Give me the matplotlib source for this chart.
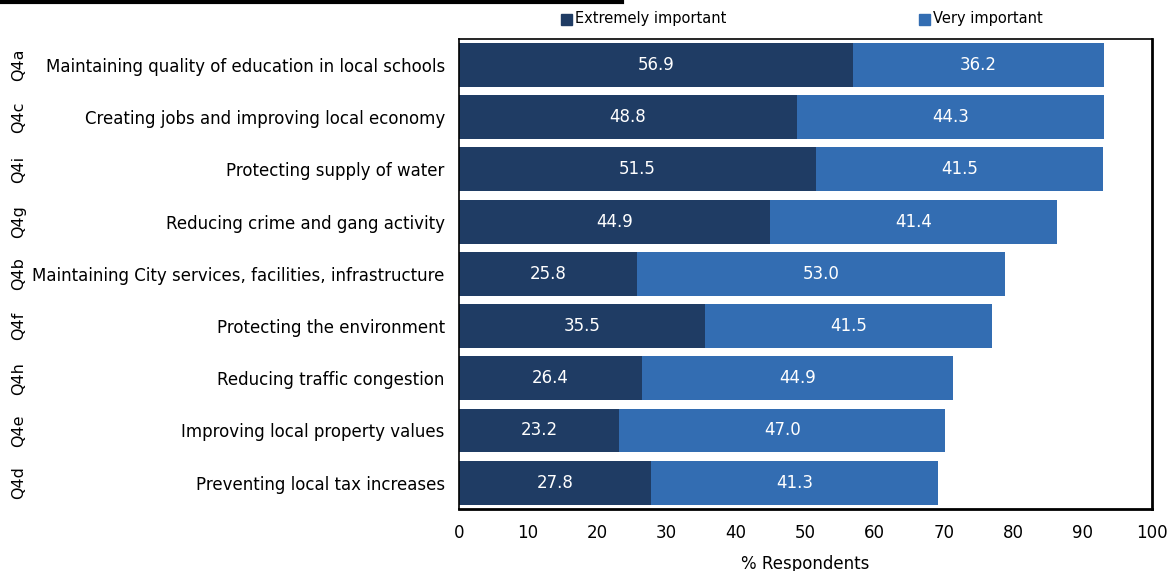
import numpy as np
import matplotlib.pyplot as plt
import matplotlib.transforms as mtransforms

qids = ["Q4a", "Q4c", "Q4i", "Q4g", "Q4b", "Q4f", "Q4h", "Q4e", "Q4d"]
items = [
    "Maintaining quality of education in local schools",
    "Creating jobs and improving local economy",
    "Protecting supply of water",
    "Reducing crime and gang activity",
    "Maintaining City services, facilities, infrastructure",
    "Protecting the environment",
    "Reducing traffic congestion",
    "Improving local property values",
    "Preventing local tax increases",
]
extremely = [56.9, 48.8, 51.5, 44.9, 25.8, 35.5, 26.4, 23.2, 27.8]
very = [36.2, 44.3, 41.5, 41.4, 53.0, 41.5, 44.9, 47.0, 41.3]

dark = "#1f3c64"
light = "#336db2"

fig = plt.figure(figsize=(11.73, 5.71), dpi=100)
ax = fig.add_axes([0.391, 0.109, 0.591, 0.823])

y = np.arange(len(items))
ax.barh(y, extremely, height=0.84, color=dark, label="Extremely important")
ax.barh(y, very, left=extremely, height=0.84, color=light, label="Very important")

for yi, e, v in zip(y, extremely, very):
    ax.text(e / 2, yi, f"{e:.1f}", color="white", ha="center", va="center", fontsize=12)
    ax.text(e + v / 2, yi, f"{v:.1f}", color="white", ha="center", va="center", fontsize=12)

ax.set_xlim(0, 100)
ax.set_ylim(len(items) - 0.5, -0.5)
ax.set_xticks(np.arange(0, 101, 10))
ax.set_yticks(y)
ax.set_yticklabels(items, fontsize=12)
ax.tick_params(axis="y", length=0, pad=10)
ax.tick_params(axis="x", length=0, pad=11, labelsize=12)
ax.set_xlabel("% Respondents", fontsize=12, labelpad=9)

for s in ax.spines.values():
    s.set_color("black")
    s.set_linewidth(1.2)
ax.spines["right"].set_linewidth(2)
ax.spines["bottom"].set_linewidth(2)

# question ids down the left edge
trans = mtransforms.blended_transform_factory(fig.transFigure, ax.transData)
for yi, q in zip(y, qids):
    fig.text(19 / 1173, yi, q, transform=trans, rotation=90,
             ha="center", va="center", fontsize=11.5)

# legend entries across the top
fig.patches.append(plt.Rectangle((561 / 1173, 1 - 25 / 571), 11 / 1173, 11 / 571,
                                 color=dark, transform=fig.transFigure))
fig.text(575 / 1173, 1 - 18 / 571, "Extremely important", fontsize=10.5, va="center")
fig.patches.append(plt.Rectangle((919 / 1173, 1 - 25 / 571), 11 / 1173, 11 / 571,
                                 color=light, transform=fig.transFigure))
fig.text(933 / 1173, 1 - 18 / 571, "Very important", fontsize=10.5, va="center")

# rule at the very top
fig.add_artist(plt.Line2D([0, 622 / 1173], [1 - 1.5 / 571, 1 - 1.5 / 571],
                          color="black", linewidth=3, transform=fig.transFigure))

fig.savefig("out.png", dpi=100)
